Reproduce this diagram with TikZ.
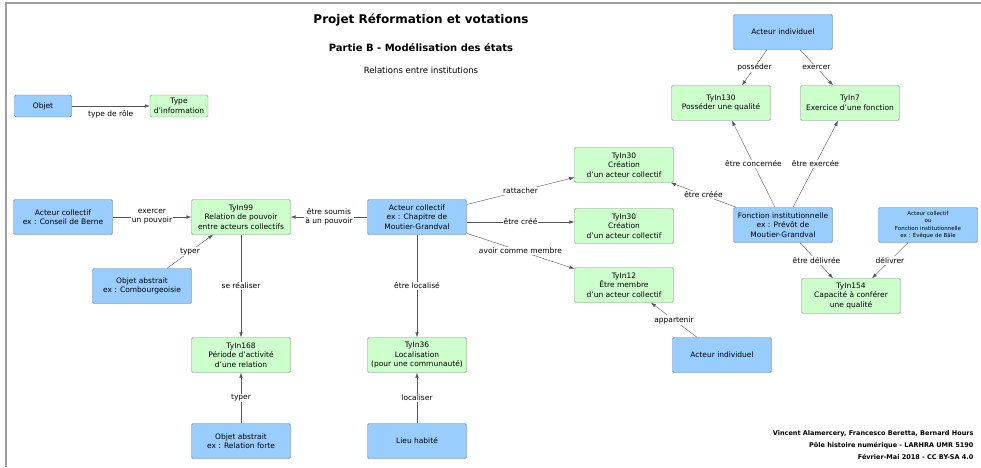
\documentclass[tikz,border=0pt]{standalone}
\usepackage{fontspec}
\setmainfont{DejaVu Sans}
\usetikzlibrary{arrows.meta}
\definecolor{bleu}{RGB}{153,204,255}
\definecolor{bleubord}{RGB}{92,122,160}
\definecolor{vert}{RGB}{204,255,204}
\definecolor{vertbord}{RGB}{120,145,120}
\definecolor{trait}{RGB}{85,85,85}

\begin{document}
\begin{tikzpicture}[x=1pt,y=-1pt,
  acteur/.style={draw=bleubord,fill=bleu,rounded corners=1.5pt,align=center,
    font=\fontsize{7.5}{9.5}\selectfont,minimum width=99pt,minimum height=35pt,inner sep=1pt},
  typin/.style={acteur,draw=vertbord,fill=vert},
  rel/.style={draw=trait,-{Latex[length=5pt,width=3.5pt]}},
  lbl/.style={fill=white,font=\fontsize{7.5}{9}\selectfont,inner sep=1pt,align=center}]
\useasboundingbox (0,0) rectangle (981,467);
\draw[gray!75,line width=1.3pt] (6,467) -- (6,3) -- (981,3);

\node[font=\bfseries\fontsize{12}{14}\selectfont] (titre) at (421,20) {Projet Réformation et votations};
\node[font=\bfseries\fontsize{10}{12}\selectfont] (partie) at (421,48) {Partie B - Modélisation des états};
\node[font=\fontsize{8.5}{10}\selectfont] (sstitre) at (421,70) {Relations entre institutions};
\node[anchor=east,align=right,font=\bfseries\fontsize{6.5}{12}\selectfont] (auteurs) at (977,445)
  {Vincent Alamercery, Francesco Beretta, Bernard Hours\\Pôle histoire numérique - LARHRA UMR 5190\\Février-Mai 2018 - CC BY-SA 4.0};

\node[acteur,minimum width=57pt,minimum height=22pt] (objet) at (43,106) {Objet};
\node[typin,minimum width=58pt,minimum height=22pt] (typeinfo) at (179,106) {Type\\d'information};
\draw[rel] (objet) -- node[below,font=\fontsize{7.5}{9}\selectfont,yshift=-1pt] {type de rôle} (typeinfo);

\node[acteur] (berne) at (63,217) {Acteur collectif\\ex : Conseil de Berne};
\node[typin] (tyin99) at (241,217) {TyIn99\\Relation de pouvoir\\entre acteurs collectifs};
\node[acteur] (combourg) at (142,286) {Objet abstrait\\ex : Combourgeoisie};
\node[typin] (tyin168) at (241,355) {TyIn168\\Période d'activité\\d'une relation};
\node[acteur] (relforte) at (241,441) {Objet abstrait\\ex : Relation forte};
\node[acteur] (chapitre) at (417,217) {Acteur collectif\\ex : Chapitre de\\Moutier-Grandval};
\node[typin] (tyin36) at (417,355) {TyIn36\\Localisation\\(pour une communauté)};
\node[acteur] (lieu) at (417,441) {Lieu habité};
\node[typin] (creation) at (624,165) {TyIn30\\Création\\d'un acteur collectif};
\node[typin] (creationb) at (624,226) {TyIn30\\Création\\d'un acteur collectif};
\node[typin] (tyin12) at (624,285) {TyIn12\\Être membre\\d'un acteur collectif};
\node[acteur] (indivbas) at (722,355) {Acteur individuel};
\node[acteur] (indivhaut) at (783,32) {Acteur individuel};
\node[typin] (tyin130) at (721,103) {TyIn130\\Posséder une qualité};
\node[typin] (tyin7) at (850,103) {TyIn7\\Exercice d'une fonction};
\node[acteur] (fonction) at (783,225) {Fonction institutionnelle\\ex : Prévôt de\\Moutier-Grandval};
\node[acteur,font=\fontsize{5.5}{7.2}\selectfont] (eveque) at (928,225) {Acteur collectif\\ou\\Fonction institutionnelle\\ex : Évêque de Bâle};
\node[typin] (tyin154) at (851,296) {TyIn154\\Capacité à conférer\\une qualité};

\draw[rel] (berne) -- node[lbl] {exercer\\un pouvoir} (tyin99);
\draw[rel] (chapitre) -- node[lbl] {être soumis\\à un pouvoir} (tyin99);
\draw[rel] ([xshift=25pt]combourg.north) -- node[lbl] {typer} ([xshift=-28pt]tyin99.south);
\draw[rel] (tyin99) -- node[lbl] {se réaliser} (tyin168);
\draw[rel] (relforte) -- node[lbl] {typer} (tyin168);
\draw[rel] (chapitre) -- node[lbl] {être localisé} (tyin36);
\draw[rel] (lieu) -- node[lbl] {localiser} (tyin36);
\draw[rel] (chapitre) -- node[lbl] {rattacher} (creation);
\draw[rel] ([yshift=-5pt]chapitre.east) -- node[lbl] {être créé} ([yshift=-5pt]chapitre.east -| creationb.west);
\draw[rel] (chapitre) -- node[lbl] {avoir comme membre} (tyin12);
\draw[rel] ([xshift=-25pt]indivbas.north) -- node[lbl] {appartenir} ([xshift=27pt]tyin12.south);
\draw[rel] ([xshift=-16pt]indivhaut.south) -- node[lbl] {posséder} ([xshift=21pt]tyin130.north);
\draw[rel] ([xshift=17pt]indivhaut.south) -- node[lbl] {exercer} ([xshift=-17pt]tyin7.north);
\draw[rel] (fonction) -- node[lbl] {être créée} (creation);
\draw[rel] ([xshift=-8pt]fonction.north) -- node[lbl] {être concernée} ([xshift=11pt]tyin130.south);
\draw[rel] ([xshift=10pt]fonction.north) -- node[lbl] {être exercée} ([xshift=-12pt]tyin7.south);
\draw[rel] ([xshift=17pt]fonction.south) -- node[lbl] {être délivrée} ([xshift=-18pt]tyin154.north);
\draw[rel] ([xshift=-20pt]eveque.south) -- node[lbl] {délivrer} ([xshift=21pt]tyin154.north);
\end{tikzpicture}
\end{document}
